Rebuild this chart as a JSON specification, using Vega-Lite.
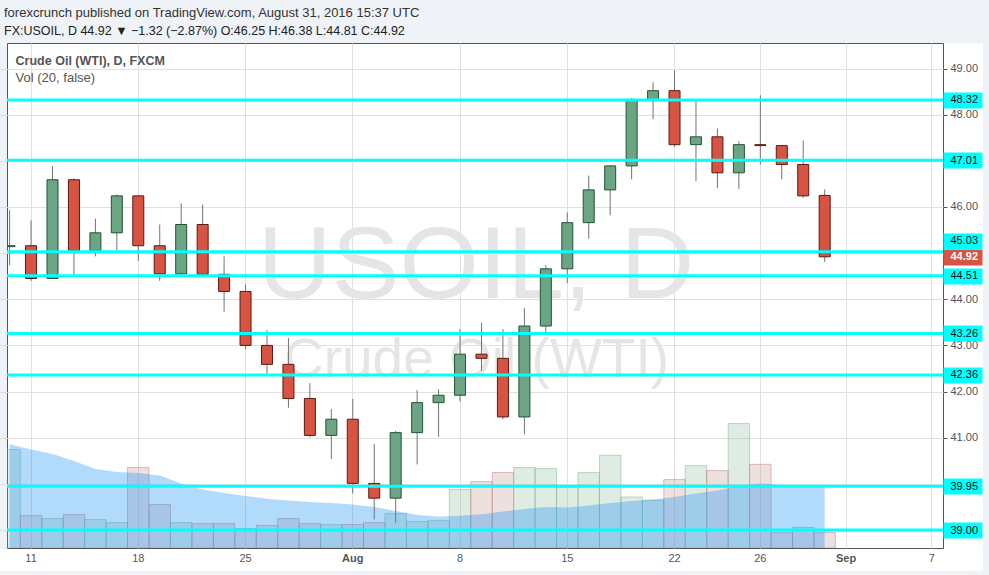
{
  "$schema": "https://vega.github.io/schema/vega-lite/v6.json",
  "width": 936,
  "height": 505,
  "autosize": {"type": "none"},
  "padding": {"left": 7, "top": 43, "right": 46, "bottom": 27},
  "background": "#eff2f6",
  "view": {"fill": "#ffffff", "stroke": "#555555"},
  "title": {
    "text": "forexcrunch published on TradingView.com, August 31, 2016 15:37 UTC",
    "subtitle": "FX:USOIL, D  44.92 ▼ −1.32 (−2.87%)  O:46.25  H:46.38  L:44.81  C:44.92",
    "anchor": "start",
    "frame": "group",
    "dx": -3,
    "offset": 6,
    "font": "Liberation Sans",
    "fontSize": 13,
    "fontWeight": "normal",
    "color": "#333333",
    "subtitleFont": "Liberation Sans",
    "subtitleFontSize": 12.5,
    "subtitleFontWeight": "normal",
    "subtitleColor": "#222222",
    "subtitlePadding": 5
  },
  "datasets": {
    "candles": [
      {"date": "2016-07-08", "open": 45.14, "high": 45.93, "low": 44.74, "close": 45.16, "volume": 98400, "vol_ma": 103700},
      {"date": "2016-07-11", "open": 45.16, "high": 45.71, "low": 44.40, "close": 44.45, "volume": 32400, "vol_ma": 98500},
      {"date": "2016-07-12", "open": 44.45, "high": 46.88, "low": 44.44, "close": 46.59, "volume": 29400, "vol_ma": 94000},
      {"date": "2016-07-13", "open": 46.59, "high": 46.62, "low": 44.54, "close": 45.05, "volume": 33400, "vol_ma": 87000},
      {"date": "2016-07-14", "open": 45.05, "high": 45.75, "low": 44.93, "close": 45.44, "volume": 28400, "vol_ma": 79000},
      {"date": "2016-07-15", "open": 45.44, "high": 46.27, "low": 45.06, "close": 46.24, "volume": 25400, "vol_ma": 76000},
      {"date": "2016-07-18", "open": 46.24, "high": 46.26, "low": 44.83, "close": 45.16, "volume": 80400, "vol_ma": 75000},
      {"date": "2016-07-19", "open": 45.16, "high": 45.62, "low": 44.40, "close": 44.55, "volume": 43400, "vol_ma": 72500},
      {"date": "2016-07-20", "open": 44.55, "high": 46.08, "low": 44.52, "close": 45.62, "volume": 25400, "vol_ma": 64500},
      {"date": "2016-07-21", "open": 45.62, "high": 46.05, "low": 44.52, "close": 44.54, "volume": 24400, "vol_ma": 58500},
      {"date": "2016-07-22", "open": 44.54, "high": 44.93, "low": 43.73, "close": 44.17, "volume": 24400, "vol_ma": 55000},
      {"date": "2016-07-25", "open": 44.17, "high": 44.32, "low": 42.92, "close": 43.00, "volume": 19400, "vol_ma": 52000},
      {"date": "2016-07-26", "open": 43.00, "high": 43.33, "low": 42.39, "close": 42.59, "volume": 22400, "vol_ma": 49300},
      {"date": "2016-07-27", "open": 42.59, "high": 43.16, "low": 41.65, "close": 41.85, "volume": 29400, "vol_ma": 47500},
      {"date": "2016-07-28", "open": 41.85, "high": 42.18, "low": 41.01, "close": 41.05, "volume": 24400, "vol_ma": 46000},
      {"date": "2016-07-29", "open": 41.05, "high": 41.62, "low": 40.54, "close": 41.40, "volume": 23400, "vol_ma": 45000},
      {"date": "2016-08-01", "open": 41.40, "high": 41.84, "low": 39.79, "close": 40.01, "volume": 23400, "vol_ma": 43500},
      {"date": "2016-08-02", "open": 40.01, "high": 40.86, "low": 39.23, "close": 39.69, "volume": 25400, "vol_ma": 41000},
      {"date": "2016-08-03", "open": 39.69, "high": 41.15, "low": 39.16, "close": 41.11, "volume": 34400, "vol_ma": 37000},
      {"date": "2016-08-04", "open": 41.11, "high": 42.03, "low": 40.42, "close": 41.76, "volume": 26400, "vol_ma": 33300},
      {"date": "2016-08-05", "open": 41.76, "high": 42.05, "low": 41.02, "close": 41.92, "volume": 27400, "vol_ma": 31300},
      {"date": "2016-08-08", "open": 41.92, "high": 43.35, "low": 41.78, "close": 42.81, "volume": 58400, "vol_ma": 32300},
      {"date": "2016-08-09", "open": 42.81, "high": 43.49, "low": 42.45, "close": 42.72, "volume": 66400, "vol_ma": 33800},
      {"date": "2016-08-10", "open": 42.72, "high": 43.35, "low": 41.40, "close": 41.45, "volume": 75400, "vol_ma": 36500},
      {"date": "2016-08-11", "open": 41.45, "high": 43.81, "low": 41.07, "close": 43.42, "volume": 80400, "vol_ma": 39000},
      {"date": "2016-08-12", "open": 43.42, "high": 44.74, "low": 43.29, "close": 44.66, "volume": 79400, "vol_ma": 41000},
      {"date": "2016-08-15", "open": 44.66, "high": 45.88, "low": 44.35, "close": 45.66, "volume": 61000, "vol_ma": 40500},
      {"date": "2016-08-16", "open": 45.66, "high": 46.68, "low": 45.31, "close": 46.37, "volume": 75400, "vol_ma": 42500},
      {"date": "2016-08-17", "open": 46.37, "high": 46.90, "low": 45.82, "close": 46.89, "volume": 92700, "vol_ma": 45000},
      {"date": "2016-08-18", "open": 46.89, "high": 48.36, "low": 46.60, "close": 48.33, "volume": 51000, "vol_ma": 47000},
      {"date": "2016-08-19", "open": 48.33, "high": 48.70, "low": 47.90, "close": 48.52, "volume": 47700, "vol_ma": 48500},
      {"date": "2016-08-22", "open": 48.52, "high": 48.96, "low": 47.30, "close": 47.35, "volume": 68400, "vol_ma": 51000},
      {"date": "2016-08-23", "open": 47.35, "high": 48.30, "low": 46.56, "close": 47.52, "volume": 82400, "vol_ma": 54500},
      {"date": "2016-08-24", "open": 47.52, "high": 47.70, "low": 46.41, "close": 46.74, "volume": 77400, "vol_ma": 57500},
      {"date": "2016-08-25", "open": 46.74, "high": 47.42, "low": 46.39, "close": 47.35, "volume": 124400, "vol_ma": 62000},
      {"date": "2016-08-26", "open": 47.35, "high": 48.42, "low": 46.92, "close": 47.33, "volume": 83700, "vol_ma": 64500},
      {"date": "2016-08-29", "open": 47.33, "high": 47.34, "low": 46.60, "close": 46.92, "volume": 15400, "vol_ma": 63000},
      {"date": "2016-08-30", "open": 46.92, "high": 47.44, "low": 46.20, "close": 46.24, "volume": 20400, "vol_ma": 62000},
      {"date": "2016-08-31", "open": 46.25, "high": 46.38, "low": 44.81, "close": 44.92, "volume": 15400, "vol_ma": 62000}
    ],
    "levels": [
      {"level": 48.32}, {"level": 47.01}, {"level": 45.03}, {"level": 44.51},
      {"level": 43.26}, {"level": 42.36}, {"level": 39.95}, {"level": 39.00}
    ]
  },
  "resolve": {"scale": {"y": "independent"}, "axis": {"x": "independent"}},
  "layer": [
    {
      "data": {"name": "candles"},
      "layer": [
        {
          "mark": {"type": "bar", "clip": true, "strokeWidth": 1, "fillOpacity": 0.25, "strokeOpacity": 0.5},
          "encoding": {
            "x": {
              "field": "date",
              "type": "ordinal",
              "scale": {
                "type": "band",
                "domain": [
                  "2016-07-08",
                  "2016-07-11", "2016-07-12", "2016-07-13", "2016-07-14", "2016-07-15",
                  "2016-07-18", "2016-07-19", "2016-07-20", "2016-07-21", "2016-07-22",
                  "2016-07-25", "2016-07-26", "2016-07-27", "2016-07-28", "2016-07-29",
                  "2016-08-01", "2016-08-02", "2016-08-03", "2016-08-04", "2016-08-05",
                  "2016-08-08", "2016-08-09", "2016-08-10", "2016-08-11", "2016-08-12",
                  "2016-08-15", "2016-08-16", "2016-08-17", "2016-08-18", "2016-08-19",
                  "2016-08-22", "2016-08-23", "2016-08-24", "2016-08-25", "2016-08-26",
                  "2016-08-29", "2016-08-30", "2016-08-31", "2016-09-01", "2016-09-02",
                  "2016-09-05", "2016-09-06", "2016-09-07", "2016-09-08"
                ],
                "range": [-8.13, 957.1],
                "paddingInner": 0,
                "paddingOuter": 0
              },
              "axis": {
                "title": null,
                "orient": "bottom",
                "labels": false,
                "ticks": false,
                "grid": false,
                "domain": true,
                "domainColor": "#ffffff",
                "domainWidth": 22,
                "offset": 11.5
              }
            },
            "y": {
              "field": "volume",
              "type": "quantitative",
              "scale": {"domain": [-22000, 505000], "range": [527, 0], "nice": false},
              "axis": {
                "title": null,
                "orient": "right",
                "offset": 20,
                "labels": false,
                "ticks": false,
                "grid": false,
                "domain": true,
                "domainColor": "#ffffff",
                "domainWidth": 39
              }
            },
            "y2": {"datum": 0},
            "fill": {"condition": {"test": "datum.close >= datum.open", "value": "#7fb58f"}, "value": "#be8282"},
            "stroke": {"condition": {"test": "datum.close >= datum.open", "value": "#7fb58f"}, "value": "#be8282"}
          }
        },
        {
          "mark": {"type": "area", "clip": true, "color": "#2196f3", "opacity": 0.35},
          "encoding": {
            "x": {"field": "date", "type": "ordinal"},
            "y": {"field": "vol_ma", "type": "quantitative"},
            "y2": {"datum": 0}
          }
        }
      ]
    },
    {
      "resolve": {"axis": {"y": "independent"}},
      "layer": [
        {
          "data": {"values": [{"label": "USOIL, D"}]},
          "mark": {"type": "text", "font": "Liberation Sans", "fontSize": 102, "color": "#e5e5e5", "align": "center", "baseline": "alphabetic", "dx": -5.5},
          "encoding": {
            "x": {"datum": "2016-08-09", "type": "ordinal"},
            "y": {"datum": 44.02, "type": "quantitative", "axis": null},
            "text": {"field": "label"}
          }
        },
        {
          "data": {"values": [{"label": "Crude Oil (WTI)"}]},
          "mark": {"type": "text", "font": "Liberation Sans", "fontSize": 55, "color": "#e5e5e5", "align": "center", "baseline": "alphabetic", "dx": -5},
          "encoding": {
            "x": {"datum": "2016-08-09", "type": "ordinal"},
            "y": {"datum": 42.32, "type": "quantitative", "axis": null},
            "text": {"field": "label"}
          }
        },
        {
          "data": {"name": "candles"},
          "mark": {"type": "rule", "clip": true, "color": "#737375", "strokeWidth": 1},
          "encoding": {
            "x": {
              "field": "date",
              "type": "ordinal",
              "axis": {
                "title": null,
                "orient": "bottom",
                "values": ["2016-07-11", "2016-07-18", "2016-07-25", "2016-08-01", "2016-08-08", "2016-08-15", "2016-08-22", "2016-08-26", "2016-09-01", "2016-09-07"],
                "labelExpr": "datum.value == '2016-08-01' ? 'Aug' : datum.value == '2016-09-01' ? 'Sep' : '' + toNumber(substring(datum.value, 8, 10))",
                "bandPosition": 0.5,
                "ticks": false,
                "domain": false,
                "grid": true,
                "gridColor": "#e0e0e0",
                "labelAngle": 0,
                "labelAlign": "center",
                "labelBaseline": "middle",
                "labelPadding": 10,
                "labelFont": "Liberation Sans",
                "labelFontSize": 11,
                "labelColor": "#555555",
                "labelFontWeight": {"condition": {"test": "datum.value == '2016-08-01' || datum.value == '2016-09-01'", "value": "bold"}, "value": "normal"},
                "labelOverlap": false
              }
            },
            "y": {
              "field": "low",
              "type": "quantitative",
              "scale": {"domain": [38.61, 49.553], "nice": false, "zero": false},
              "axis": {
                "title": null,
                "orient": "right",
                "values": [49, 48, 47, 46, 45, 44, 43, 42, 41, 40, 39],
                "labelExpr": "indexof([47, 45, 40, 39], datum.value) >= 0 ? '' : format(datum.value, '.2f')",
                "domain": false,
                "grid": true,
                "gridColor": "#e0e0e0",
                "tickSize": 4,
                "tickColor": "#555555",
                "labelPadding": 3,
                "labelColor": "#555555",
                "labelFont": "Liberation Sans",
                "labelFontSize": 11,
                "labelOverlap": false,
                "labelBound": false
              }
            },
            "y2": {"field": "high"}
          }
        },
        {
          "data": {"name": "candles"},
          "mark": {"type": "bar", "clip": true, "size": 11, "strokeWidth": 1},
          "encoding": {
            "x": {"field": "date", "type": "ordinal"},
            "y": {"field": "open", "type": "quantitative", "axis": null},
            "y2": {"field": "close"},
            "fill": {"condition": {"test": "datum.close >= datum.open", "value": "#6ba583"}, "value": "#d75442"},
            "stroke": {"condition": {"test": "datum.close >= datum.open", "value": "#225437"}, "value": "#5b1a13"}
          }
        },
        {
          "data": {"name": "levels"},
          "mark": {"type": "rule", "color": "#00ffff", "strokeWidth": 3},
          "encoding": {
            "y": {
              "field": "level",
              "type": "quantitative",
              "axis": {
                "title": null,
                "orient": "right",
                "values": [48.32, 47.01, 45.27, 44.51, 43.26, 42.36, 39.95, 39, 44.92],
                "labelExpr": "datum.value == 45.27 ? '45.03' : format(datum.value, '.2f')",
                "domain": false,
                "grid": false,
                "tickSize": 39,
                "tickWidth": 16,
                "tickColor": {"condition": {"test": "datum.value == 44.92", "value": "#d75442"}, "value": "#00ffff"},
                "labelColor": {"condition": {"test": "datum.value == 44.92", "value": "#ffffff"}, "value": "#111111"},
                "labelFontWeight": {"condition": {"test": "datum.value == 44.92", "value": "bold"}, "value": "normal"},
                "labelPadding": -32,
                "labelFont": "Liberation Sans",
                "labelFontSize": 11,
                "labelOverlap": false,
                "labelBound": false
              }
            }
          }
        },
        {
          "data": {"values": [{"label": "Crude Oil (WTI), D, FXCM"}]},
          "mark": {"type": "text", "font": "Liberation Sans", "fontSize": 12.5, "fontWeight": "bold", "color": "#555555", "align": "left", "baseline": "middle", "dx": 6},
          "encoding": {
            "x": {"datum": "2016-07-08", "type": "ordinal"},
            "y": {"datum": 49.163, "type": "quantitative", "axis": null},
            "text": {"field": "label"}
          }
        },
        {
          "data": {"values": [{"label": "Vol (20, false)"}]},
          "mark": {"type": "text", "font": "Liberation Sans", "fontSize": 13, "color": "#555555", "align": "left", "baseline": "middle", "dx": 6},
          "encoding": {
            "x": {"datum": "2016-07-08", "type": "ordinal"},
            "y": {"datum": 48.794, "type": "quantitative", "axis": null},
            "text": {"field": "label"}
          }
        }
      ]
    }
  ]
}
